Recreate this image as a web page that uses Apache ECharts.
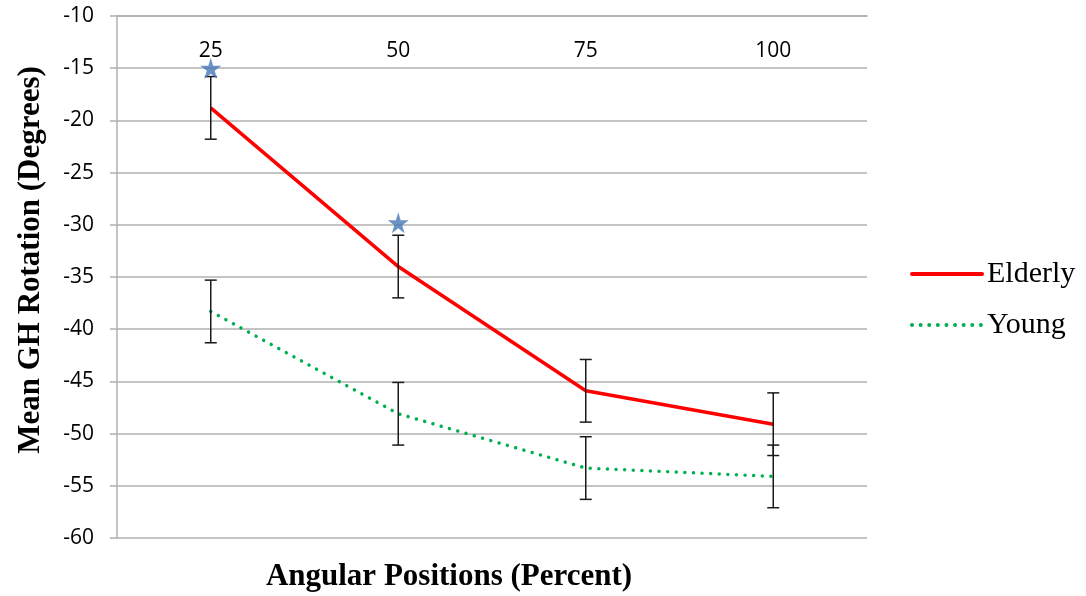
<!DOCTYPE html>
<html lang="en">
<head>
    <meta charset="UTF-8">
    <title>GH rotation</title>
    <style>
        html, body { margin: 0; padding: 0; background: #fff; }
    </style>
    <script src="https://cdn.jsdelivr.net/npm/echarts@6/dist/echarts.min.js"></script>
</head>
<body>
<div id="main" style="width:1086px;height:596px"></div>
<script>
    // values
    var positions = ['25', '50', '75', '100'];
    var elderly = [-18.8, -34.0, -45.9, -49.1];
    var young = [-38.3, -48.1, -53.3, -54.1];
    var elderlyErr = [3, 3, 3, 3];
    var youngErr = [3, 3, 3, 3];
    var stars = [-15, -29.8, null, null];

    var gridColor = '#b0b0b0';
    var starPath = 'path://M50,0 L61,35 L98,35 L68,57 L79,91 L50,70 L21,91 L32,57 L2,35 L39,35 Z';

    function errData(vals, errs) {
        return vals.map(function (v, i) { return [i, v + errs[i], v - errs[i]]; });
    }

    function errBar(params, api) {
        var top = api.coord([api.value(0), api.value(1)]);
        var bot = api.coord([api.value(0), api.value(2)]);
        var hw = 6;
        var st = { stroke: '#1a1a1a', lineWidth: 1.5 };
        return {
            type: 'group',
            children: [
                { type: 'line', shape: { x1: top[0], y1: top[1], x2: bot[0], y2: bot[1] }, style: st },
                { type: 'line', shape: { x1: top[0] - hw, y1: top[1], x2: top[0] + hw, y2: top[1] }, style: st },
                { type: 'line', shape: { x1: bot[0] - hw, y1: bot[1], x2: bot[0] + hw, y2: bot[1] }, style: st }
            ]
        };
    }

    var myChart = echarts.init(document.getElementById('main'));
    var option = {
        animation: false,
        grid: { left: 117, right: 219, top: 16, bottom: 58 },
        legend: {
            data: ['Elderly', 'Young'],
            orient: 'vertical',
            left: 905,
            top: 254,
            itemWidth: 70,
            itemHeight: 14,
            itemGap: 21,
            itemStyle: { opacity: 0 },
            lineStyle: { width: 4, cap: 'round' },
            textStyle: { fontFamily: 'Liberation Serif', fontSize: 30, color: '#000' }
        },
        xAxis: {
            type: 'category',
            position: 'top',
            data: positions,
            axisLine: { show: true, lineStyle: { color: gridColor, width: 1.5 } },
            axisTick: { show: false },
            axisLabel: { inside: true, margin: 25, fontFamily: 'Open Sans', fontSize: 21, color: '#000' }
        },
        yAxis: {
            type: 'value',
            min: -60,
            max: -10,
            interval: 5,
            axisLine: { show: true, lineStyle: { color: gridColor, width: 1.5 } },
            axisTick: { show: true, length: 7, lineStyle: { color: gridColor, width: 1.5 } },
            splitLine: { lineStyle: { color: gridColor, width: 1.5 } },
            axisLabel: { margin: 23, fontFamily: 'Open Sans', fontSize: 21, color: '#000' }
        },
        graphic: [
            {
                type: 'text', x: 449, y: 577,
                style: {
                    text: 'Angular Positions (Percent)', x: 0, y: 0,
                    align: 'center', verticalAlign: 'middle',
                    font: 'bold 31px "Liberation Serif"', fill: '#000'
                }
            },
            {
                type: 'text', x: 31, y: 260, rotation: Math.PI / 2,
                style: {
                    text: 'Mean GH Rotation (Degrees)', x: 0, y: 0,
                    align: 'center', verticalAlign: 'middle',
                    font: 'bold 31px "Liberation Serif"', fill: '#000'
                }
            }
        ],
        series: [
            {
                name: 'Elderly', type: 'line', data: elderly,
                symbol: 'none', z: 3,
                lineStyle: { color: '#ff0000', width: 3.5 },
                itemStyle: { color: '#ff0000' }
            },
            {
                name: 'Young', type: 'line', data: young,
                symbol: 'none', z: 3,
                lineStyle: { color: '#00b050', width: 3.5, type: [0.01, 8.6], cap: 'round' },
                itemStyle: { color: '#00b050' }
            },
            {
                name: 'ElderlyErr', type: 'custom', renderItem: errBar,
                data: errData(elderly, elderlyErr), z: 4
            },
            {
                name: 'YoungErr', type: 'custom', renderItem: errBar,
                data: errData(young, youngErr), z: 4
            },
            {
                name: 'Significant', type: 'scatter', data: stars,
                symbol: starPath, symbolSize: 21, z: 5,
                itemStyle: { color: '#4677b5' }
            }
        ]
    };
    myChart.setOption(option);
</script>
</body>
</html>
